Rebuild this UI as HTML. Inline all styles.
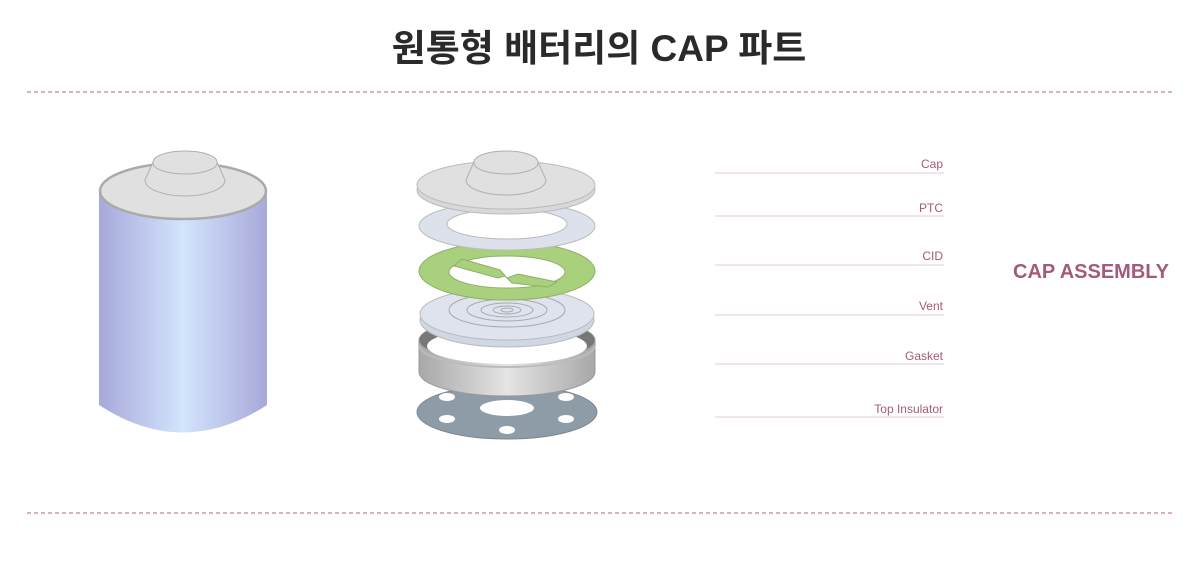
<!DOCTYPE html>
<html><head><meta charset="utf-8"><style>
html,body{margin:0;padding:0;background:#fff;width:1200px;height:566px;overflow:hidden}
</style></head><body>
<svg width="1200" height="566" viewBox="0 0 1200 566" xmlns="http://www.w3.org/2000/svg">
<defs>
<linearGradient id="bat" x1="0" x2="1">
<stop offset="0" stop-color="#a7a9d9"/><stop offset="0.5" stop-color="#d3e4fd"/><stop offset="1" stop-color="#a7a9d9"/>
</linearGradient>
<linearGradient id="gk" x1="0" x2="1">
<stop offset="0" stop-color="#a8a8a8"/><stop offset="0.5" stop-color="#e4e4e4"/><stop offset="1" stop-color="#a8a8a8"/>
</linearGradient>
</defs>
<text x="599" y="61" text-anchor="middle" font-family="'Liberation Sans','Noto Sans CJK KR',sans-serif" font-size="37" font-weight="bold" fill="#2a2a2a">원통형 배터리의 CAP 파트</text>
<line x1="27" y1="92" x2="1173" y2="92" stroke="#b5637f" stroke-width="1" stroke-dasharray="4,3"/>
<line x1="27" y1="513" x2="1173" y2="513" stroke="#b5637f" stroke-width="1" stroke-dasharray="4,3"/>

<!-- battery -->
<path d="M99 191 L99 405 Q183 460 267 405 L267 191 Z" fill="url(#bat)"/>
<ellipse cx="183" cy="191" rx="83" ry="28" fill="#e0e0e0" stroke="#aaa" stroke-width="2.5"/>
<path d="M145 180 L153 162 A32 11 0 0 1 217 162 L225 180 A40 16 0 0 1 145 180 Z" fill="#e0e0e0" stroke="#b0b0b0" stroke-width="1"/>
<path d="M153 163 A32 11 0 0 0 217 163" fill="none" stroke="#b0b0b0"/>

<!-- insulator -->
<ellipse cx="507" cy="412" rx="90" ry="27" fill="#8d9ca6" stroke="#7a8893"/>
<ellipse cx="507" cy="408" rx="27" ry="8" fill="#fff"/>
<g fill="#fff"><ellipse cx="447" cy="397" rx="8" ry="4"/><ellipse cx="566" cy="397" rx="8" ry="4"/><ellipse cx="447" cy="419" rx="8" ry="4"/><ellipse cx="566" cy="419" rx="8" ry="4"/><ellipse cx="507" cy="430" rx="8" ry="4"/></g>

<!-- gasket -->
<path d="M419 340 L419 372 A88 24 0 0 0 595 372 L595 340 Z" fill="url(#gk)" stroke="#999"/>
<ellipse cx="507" cy="340" rx="88" ry="22" fill="#777" stroke="#999"/>
<ellipse cx="507" cy="346" rx="80" ry="18" fill="#fff"/>
<path d="M419 345 A88 22 0 0 0 595 345" fill="none" stroke="#bbb" stroke-width="2"/>

<!-- vent -->
<ellipse cx="507" cy="320" rx="87" ry="27" fill="#cfd6e4" stroke="#bbb"/>
<ellipse cx="507" cy="314" rx="87" ry="26" fill="#dfe3ee" stroke="#bbb"/>
<g fill="none" stroke="#aaa"><ellipse cx="507" cy="310" rx="58" ry="17"/><ellipse cx="507" cy="310" rx="40" ry="11"/><ellipse cx="507" cy="310" rx="26" ry="7"/><ellipse cx="507" cy="310" rx="14" ry="4"/><ellipse cx="507" cy="310" rx="6" ry="2"/></g>

<!-- CID -->
<path fill-rule="evenodd" d="M419 271 A88 29 0 1 0 595 271 A88 29 0 1 0 419 271 Z M449 272 A58 16 0 1 0 565 272 A58 16 0 1 0 449 272 Z" fill="#a9d07c" stroke="#8fb066"/>
<path d="M454 266 L462 259 L500 270 L507 278 L518 274 L557 282 L548 287 L512 283 L505 276 L498 278 Z" fill="#a9d07c" stroke="#8fb066"/>

<!-- PTC -->
<path fill-rule="evenodd" d="M419 226 A88 24 0 1 0 595 226 A88 24 0 1 0 419 226 Z M447 224 A60 15 0 1 0 567 224 A60 15 0 1 0 447 224 Z" fill="#dde1ec" stroke="#bbb"/>

<!-- cap -->
<ellipse cx="506" cy="190" rx="89" ry="24" fill="#d8d8d8" stroke="#bbb"/>
<ellipse cx="506" cy="185" rx="89" ry="24" fill="#e0e0e0" stroke="#bbb"/>
<path d="M466 180 L474 162 A32 11 0 0 1 538 162 L546 180 A40 15 0 0 1 466 180 Z" fill="#e0e0e0" stroke="#b0b0b0"/>
<path d="M474 163 A32 11 0 0 0 538 163" fill="none" stroke="#b0b0b0"/>

<!-- labels -->
<g stroke="#e4ccd6" stroke-width="1">
<line x1="715" y1="173" x2="944" y2="173"/><line x1="715" y1="216" x2="944" y2="216"/><line x1="715" y1="265" x2="944" y2="265"/><line x1="715" y1="315" x2="944" y2="315"/><line x1="715" y1="364" x2="944" y2="364"/><line x1="715" y1="417" x2="944" y2="417"/>
</g>
<g font-family="'Liberation Sans',sans-serif" font-size="12" fill="#a45a79" text-anchor="end">
<text x="943" y="168">Cap</text><text x="943" y="212">PTC</text><text x="943" y="260">CID</text><text x="943" y="310">Vent</text><text x="943" y="360">Gasket</text><text x="943" y="413">Top Insulator</text>
</g>
<text x="1169" y="278" text-anchor="end" font-family="'Liberation Sans',sans-serif" font-size="20" font-weight="bold" fill="#a45a79">CAP ASSEMBLY</text>
</svg>
</body></html>
